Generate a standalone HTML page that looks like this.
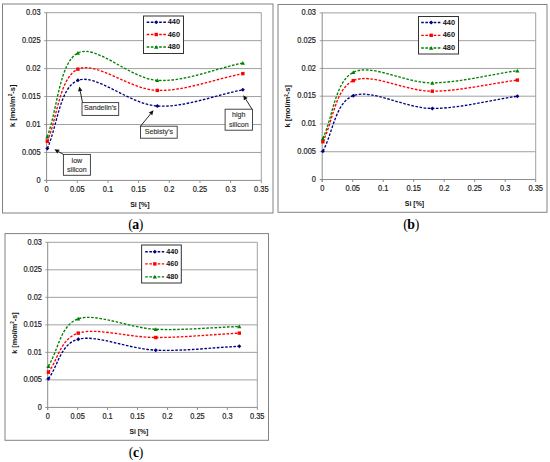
<!DOCTYPE html>
<html><head><meta charset="utf-8"><title>Chart</title>
<style>
html,body{margin:0;padding:0;background:#fff;}
body{width:550px;height:462px;overflow:hidden;}
svg{display:block;font-family:"Liberation Sans", sans-serif;}
</style></head><body>
<svg width="550" height="462" viewBox="0 0 550 462">
<rect width="550" height="462" fill="#fff"/>
<rect x="2.5" y="4" width="270.5" height="209" fill="none" stroke="#828282" stroke-width="1"/>
<line x1="44.1" y1="152.45" x2="261.3" y2="152.45" stroke="#a0a0a0" stroke-width="1"/>
<line x1="44.1" y1="124.5" x2="261.3" y2="124.5" stroke="#a0a0a0" stroke-width="1"/>
<line x1="44.1" y1="96.55" x2="261.3" y2="96.55" stroke="#a0a0a0" stroke-width="1"/>
<line x1="44.1" y1="68.6" x2="261.3" y2="68.6" stroke="#a0a0a0" stroke-width="1"/>
<line x1="44.1" y1="40.65" x2="261.3" y2="40.65" stroke="#a0a0a0" stroke-width="1"/>
<line x1="44.1" y1="12.7" x2="261.3" y2="12.7" stroke="#a0a0a0" stroke-width="1"/>
<line x1="261.3" y1="12.7" x2="261.3" y2="180.4" stroke="#a0a0a0" stroke-width="1"/>
<line x1="46.6" y1="12.7" x2="46.6" y2="182.9" stroke="#8c8c8c" stroke-width="1"/>
<line x1="44.1" y1="180.4" x2="261.3" y2="180.4" stroke="#8c8c8c" stroke-width="1"/>
<line x1="46.6" y1="180.4" x2="46.6" y2="182.9" stroke="#8c8c8c" stroke-width="1"/>
<line x1="77.27" y1="180.4" x2="77.27" y2="182.9" stroke="#8c8c8c" stroke-width="1"/>
<line x1="107.94" y1="180.4" x2="107.94" y2="182.9" stroke="#8c8c8c" stroke-width="1"/>
<line x1="138.61" y1="180.4" x2="138.61" y2="182.9" stroke="#8c8c8c" stroke-width="1"/>
<line x1="169.29" y1="180.4" x2="169.29" y2="182.9" stroke="#8c8c8c" stroke-width="1"/>
<line x1="199.96" y1="180.4" x2="199.96" y2="182.9" stroke="#8c8c8c" stroke-width="1"/>
<line x1="230.63" y1="180.4" x2="230.63" y2="182.9" stroke="#8c8c8c" stroke-width="1"/>
<line x1="261.3" y1="180.4" x2="261.3" y2="182.9" stroke="#8c8c8c" stroke-width="1"/>
<text transform="translate(40.6,182.6) scale(0.9,1)" text-anchor="end" font-size="8.3" fill="#222" stroke="#222" stroke-width="0.2">0</text>
<text transform="translate(40.6,154.65) scale(0.9,1)" text-anchor="end" font-size="8.3" fill="#222" stroke="#222" stroke-width="0.2">0.005</text>
<text transform="translate(40.6,126.7) scale(0.9,1)" text-anchor="end" font-size="8.3" fill="#222" stroke="#222" stroke-width="0.2">0.01</text>
<text transform="translate(40.6,98.75) scale(0.9,1)" text-anchor="end" font-size="8.3" fill="#222" stroke="#222" stroke-width="0.2">0.015</text>
<text transform="translate(40.6,70.8) scale(0.9,1)" text-anchor="end" font-size="8.3" fill="#222" stroke="#222" stroke-width="0.2">0.02</text>
<text transform="translate(40.6,42.85) scale(0.9,1)" text-anchor="end" font-size="8.3" fill="#222" stroke="#222" stroke-width="0.2">0.025</text>
<text transform="translate(40.6,14.9) scale(0.9,1)" text-anchor="end" font-size="8.3" fill="#222" stroke="#222" stroke-width="0.2">0.03</text>
<text transform="translate(46.6,191.6) scale(0.9,1)" text-anchor="middle" font-size="8.3" fill="#222" stroke="#222" stroke-width="0.2">0</text>
<text transform="translate(77.27,191.6) scale(0.9,1)" text-anchor="middle" font-size="8.3" fill="#222" stroke="#222" stroke-width="0.2">0.05</text>
<text transform="translate(107.94,191.6) scale(0.9,1)" text-anchor="middle" font-size="8.3" fill="#222" stroke="#222" stroke-width="0.2">0.1</text>
<text transform="translate(138.61,191.6) scale(0.9,1)" text-anchor="middle" font-size="8.3" fill="#222" stroke="#222" stroke-width="0.2">0.15</text>
<text transform="translate(169.29,191.6) scale(0.9,1)" text-anchor="middle" font-size="8.3" fill="#222" stroke="#222" stroke-width="0.2">0.2</text>
<text transform="translate(199.96,191.6) scale(0.9,1)" text-anchor="middle" font-size="8.3" fill="#222" stroke="#222" stroke-width="0.2">0.25</text>
<text transform="translate(230.63,191.6) scale(0.9,1)" text-anchor="middle" font-size="8.3" fill="#222" stroke="#222" stroke-width="0.2">0.3</text>
<text transform="translate(261.3,191.6) scale(0.9,1)" text-anchor="middle" font-size="8.3" fill="#222" stroke="#222" stroke-width="0.2">0.35</text>
<text transform="translate(14.5,105.8) rotate(-90)" text-anchor="middle" font-size="7.5" font-weight="bold" fill="#111">k [mol/m<tspan font-size="4.65" dy="-2.2">2</tspan><tspan dy="2.2">-s]</tspan></text>
<text transform="translate(139.9,206.6) scale(0.93,1)" text-anchor="middle" font-size="7.5" font-weight="bold" fill="#111">Si [%]</text>
<path d="M47.3,148.54 C57.49,125.8 59.52,87.42 77.86,80.34 C96.19,73.26 129.8,104.47 157.31,106.05 C184.81,107.64 214.35,95.25 242.87,89.84" fill="none" stroke="#000080" stroke-width="1.35" stroke-dasharray="2.6 1.55"/>
<path d="M47.3,146.54 L49.3,148.54 L47.3,150.54 L45.3,148.54 Z" fill="#000080"/>
<path d="M77.86,78.34 L79.86,80.34 L77.86,82.34 L75.86,80.34 Z" fill="#000080"/>
<path d="M157.31,104.05 L159.31,106.05 L157.31,108.05 L155.31,106.05 Z" fill="#000080"/>
<path d="M242.87,87.84 L244.87,89.84 L242.87,91.84 L240.87,89.84 Z" fill="#000080"/>
<path d="M47.3,141.27 C57.49,117.23 59.52,77.64 77.86,69.16 C96.19,60.68 129.8,89.66 157.31,90.4 C184.81,91.15 214.35,79.22 242.87,73.63" fill="none" stroke="#ff0000" stroke-width="1.35" stroke-dasharray="2.6 1.55"/>
<rect x="45.6" y="139.57" width="3.4" height="3.4" fill="#ff0000"/>
<rect x="76.16" y="67.46" width="3.4" height="3.4" fill="#ff0000"/>
<rect x="155.61" y="88.7" width="3.4" height="3.4" fill="#ff0000"/>
<rect x="241.17" y="71.93" width="3.4" height="3.4" fill="#ff0000"/>
<path d="M47.3,136.8 C57.49,108.85 59.52,62.36 77.86,52.95 C96.19,43.54 129.8,78.66 157.31,80.34 C184.81,82.02 214.35,68.79 242.87,63.01" fill="none" stroke="#008000" stroke-width="1.35" stroke-dasharray="2.6 1.55"/>
<path d="M47.3,134.8 L49.4,138.58 L45.2,138.58 Z" fill="#008000"/>
<path d="M77.86,50.95 L79.96,54.73 L75.76,54.73 Z" fill="#008000"/>
<path d="M157.31,78.34 L159.41,82.12 L155.21,82.12 Z" fill="#008000"/>
<path d="M242.87,61.01 L244.97,64.79 L240.77,64.79 Z" fill="#008000"/>
<rect x="143.5" y="16" width="40" height="37.5" fill="#fff" stroke="#333" stroke-width="1"/>
<line x1="146.7" y1="22.2" x2="166.2" y2="22.2" stroke="#000080" stroke-width="1.35" stroke-dasharray="2.6 1.55"/>
<path d="M156.2,20.2 L158.2,22.2 L156.2,24.2 L154.2,22.2 Z" fill="#000080"/>
<text x="167.7" y="24.3" font-size="7.4" font-weight="bold" fill="#111">440</text>
<line x1="146.7" y1="34.5" x2="166.2" y2="34.5" stroke="#ff0000" stroke-width="1.35" stroke-dasharray="2.6 1.55"/>
<rect x="154.5" y="32.8" width="3.4" height="3.4" fill="#ff0000"/>
<text x="167.7" y="36.6" font-size="7.4" font-weight="bold" fill="#111">460</text>
<line x1="146.7" y1="47" x2="166.2" y2="47" stroke="#008000" stroke-width="1.35" stroke-dasharray="2.6 1.55"/>
<path d="M156.2,45.01 L158.3,48.78 L154.1,48.78 Z" fill="#008000"/>
<text x="167.7" y="49.1" font-size="7.4" font-weight="bold" fill="#111">480</text>
<text x="135.6" y="229.2" text-anchor="middle" font-family='"Liberation Serif", serif' font-size="13.8" letter-spacing="-0.4" fill="#000">(<tspan font-weight="bold">a</tspan>)</text>
<rect x="278" y="4.5" width="269" height="207.8" fill="none" stroke="#828282" stroke-width="1"/>
<line x1="319.7" y1="151.73" x2="535.7" y2="151.73" stroke="#a0a0a0" stroke-width="1"/>
<line x1="319.7" y1="123.97" x2="535.7" y2="123.97" stroke="#a0a0a0" stroke-width="1"/>
<line x1="319.7" y1="96.2" x2="535.7" y2="96.2" stroke="#a0a0a0" stroke-width="1"/>
<line x1="319.7" y1="68.43" x2="535.7" y2="68.43" stroke="#a0a0a0" stroke-width="1"/>
<line x1="319.7" y1="40.67" x2="535.7" y2="40.67" stroke="#a0a0a0" stroke-width="1"/>
<line x1="319.7" y1="12.9" x2="535.7" y2="12.9" stroke="#a0a0a0" stroke-width="1"/>
<line x1="535.7" y1="12.9" x2="535.7" y2="179.5" stroke="#a0a0a0" stroke-width="1"/>
<line x1="322.2" y1="12.9" x2="322.2" y2="182" stroke="#8c8c8c" stroke-width="1"/>
<line x1="319.7" y1="179.5" x2="535.7" y2="179.5" stroke="#8c8c8c" stroke-width="1"/>
<line x1="322.2" y1="179.5" x2="322.2" y2="182" stroke="#8c8c8c" stroke-width="1"/>
<line x1="352.7" y1="179.5" x2="352.7" y2="182" stroke="#8c8c8c" stroke-width="1"/>
<line x1="383.2" y1="179.5" x2="383.2" y2="182" stroke="#8c8c8c" stroke-width="1"/>
<line x1="413.7" y1="179.5" x2="413.7" y2="182" stroke="#8c8c8c" stroke-width="1"/>
<line x1="444.2" y1="179.5" x2="444.2" y2="182" stroke="#8c8c8c" stroke-width="1"/>
<line x1="474.7" y1="179.5" x2="474.7" y2="182" stroke="#8c8c8c" stroke-width="1"/>
<line x1="505.2" y1="179.5" x2="505.2" y2="182" stroke="#8c8c8c" stroke-width="1"/>
<line x1="535.7" y1="179.5" x2="535.7" y2="182" stroke="#8c8c8c" stroke-width="1"/>
<text transform="translate(316,181.7) scale(0.9,1)" text-anchor="end" font-size="8.3" fill="#222" stroke="#222" stroke-width="0.2">0</text>
<text transform="translate(316,153.93) scale(0.9,1)" text-anchor="end" font-size="8.3" fill="#222" stroke="#222" stroke-width="0.2">0.005</text>
<text transform="translate(316,126.17) scale(0.9,1)" text-anchor="end" font-size="8.3" fill="#222" stroke="#222" stroke-width="0.2">0.01</text>
<text transform="translate(316,98.4) scale(0.9,1)" text-anchor="end" font-size="8.3" fill="#222" stroke="#222" stroke-width="0.2">0.015</text>
<text transform="translate(316,70.63) scale(0.9,1)" text-anchor="end" font-size="8.3" fill="#222" stroke="#222" stroke-width="0.2">0.02</text>
<text transform="translate(316,42.87) scale(0.9,1)" text-anchor="end" font-size="8.3" fill="#222" stroke="#222" stroke-width="0.2">0.025</text>
<text transform="translate(316,15.1) scale(0.9,1)" text-anchor="end" font-size="8.3" fill="#222" stroke="#222" stroke-width="0.2">0.03</text>
<text transform="translate(322.2,191) scale(0.9,1)" text-anchor="middle" font-size="8.3" fill="#222" stroke="#222" stroke-width="0.2">0</text>
<text transform="translate(352.7,191) scale(0.9,1)" text-anchor="middle" font-size="8.3" fill="#222" stroke="#222" stroke-width="0.2">0.05</text>
<text transform="translate(383.2,191) scale(0.9,1)" text-anchor="middle" font-size="8.3" fill="#222" stroke="#222" stroke-width="0.2">0.1</text>
<text transform="translate(413.7,191) scale(0.9,1)" text-anchor="middle" font-size="8.3" fill="#222" stroke="#222" stroke-width="0.2">0.15</text>
<text transform="translate(444.2,191) scale(0.9,1)" text-anchor="middle" font-size="8.3" fill="#222" stroke="#222" stroke-width="0.2">0.2</text>
<text transform="translate(474.7,191) scale(0.9,1)" text-anchor="middle" font-size="8.3" fill="#222" stroke="#222" stroke-width="0.2">0.25</text>
<text transform="translate(505.2,191) scale(0.9,1)" text-anchor="middle" font-size="8.3" fill="#222" stroke="#222" stroke-width="0.2">0.3</text>
<text transform="translate(535.7,191) scale(0.9,1)" text-anchor="middle" font-size="8.3" fill="#222" stroke="#222" stroke-width="0.2">0.35</text>
<text transform="translate(289.7,106.3) rotate(-90)" text-anchor="middle" font-size="7.5" font-weight="bold" fill="#111">k [mol/m<tspan font-size="4.65" dy="-2.2">2</tspan><tspan dy="2.2">-s]</tspan></text>
<text transform="translate(414.5,206.3) scale(0.93,1)" text-anchor="middle" font-size="7.5" font-weight="bold" fill="#111">Si [%]</text>
<path d="M322.9,151.18 C333.03,132.67 335.05,102.77 353.29,95.64 C371.52,88.52 404.94,108.32 432.29,108.42 C459.64,108.51 489.01,100.27 517.37,96.2" fill="none" stroke="#000080" stroke-width="1.35" stroke-dasharray="2.6 1.55"/>
<path d="M322.9,149.18 L324.9,151.18 L322.9,153.18 L320.9,151.18 Z" fill="#000080"/>
<path d="M353.29,93.64 L355.29,95.64 L353.29,97.64 L351.29,95.64 Z" fill="#000080"/>
<path d="M432.29,106.42 L434.29,108.42 L432.29,110.42 L430.29,108.42 Z" fill="#000080"/>
<path d="M517.37,94.2 L519.37,96.2 L517.37,98.2 L515.37,96.2 Z" fill="#000080"/>
<path d="M322.9,141.74 C333.03,121.38 335.05,89.07 353.29,80.65 C371.52,72.23 404.94,91.29 432.29,91.2 C459.64,91.11 489.01,83.8 517.37,80.1" fill="none" stroke="#ff0000" stroke-width="1.35" stroke-dasharray="2.6 1.55"/>
<rect x="321.2" y="140.04" width="3.4" height="3.4" fill="#ff0000"/>
<rect x="351.59" y="78.95" width="3.4" height="3.4" fill="#ff0000"/>
<rect x="430.59" y="89.5" width="3.4" height="3.4" fill="#ff0000"/>
<rect x="515.67" y="78.4" width="3.4" height="3.4" fill="#ff0000"/>
<path d="M322.9,138.41 C333.03,116.38 335.05,81.58 353.29,72.32 C371.52,63.07 404.94,83.15 432.29,82.87 C459.64,82.59 489.01,74.73 517.37,70.65" fill="none" stroke="#008000" stroke-width="1.35" stroke-dasharray="2.6 1.55"/>
<path d="M322.9,136.41 L325,140.19 L320.8,140.19 Z" fill="#008000"/>
<path d="M353.29,70.33 L355.39,74.11 L351.19,74.11 Z" fill="#008000"/>
<path d="M432.29,80.88 L434.39,84.66 L430.19,84.66 Z" fill="#008000"/>
<path d="M517.37,68.66 L519.47,72.44 L515.27,72.44 Z" fill="#008000"/>
<rect x="418.5" y="16.5" width="40" height="37.5" fill="#fff" stroke="#333" stroke-width="1"/>
<line x1="421.2" y1="22.5" x2="441.2" y2="22.5" stroke="#000080" stroke-width="1.35" stroke-dasharray="2.6 1.55"/>
<path d="M431.2,20.5 L433.2,22.5 L431.2,24.5 L429.2,22.5 Z" fill="#000080"/>
<text x="442.7" y="24.6" font-size="7.4" font-weight="bold" fill="#111">440</text>
<line x1="421.2" y1="35.3" x2="441.2" y2="35.3" stroke="#ff0000" stroke-width="1.35" stroke-dasharray="2.6 1.55"/>
<rect x="429.5" y="33.6" width="3.4" height="3.4" fill="#ff0000"/>
<text x="442.7" y="37.4" font-size="7.4" font-weight="bold" fill="#111">460</text>
<line x1="421.2" y1="48" x2="441.2" y2="48" stroke="#008000" stroke-width="1.35" stroke-dasharray="2.6 1.55"/>
<path d="M431.2,46.01 L433.3,49.78 L429.1,49.78 Z" fill="#008000"/>
<text x="442.7" y="50.1" font-size="7.4" font-weight="bold" fill="#111">480</text>
<text x="411" y="229.2" text-anchor="middle" font-family='"Liberation Serif", serif' font-size="13.8" letter-spacing="-0.4" fill="#000">(<tspan font-weight="bold">b</tspan>)</text>
<rect x="5" y="233.6" width="263.5" height="206.7" fill="none" stroke="#828282" stroke-width="1"/>
<line x1="45.2" y1="379.88" x2="257.3" y2="379.88" stroke="#a0a0a0" stroke-width="1"/>
<line x1="45.2" y1="352.37" x2="257.3" y2="352.37" stroke="#a0a0a0" stroke-width="1"/>
<line x1="45.2" y1="324.85" x2="257.3" y2="324.85" stroke="#a0a0a0" stroke-width="1"/>
<line x1="45.2" y1="297.33" x2="257.3" y2="297.33" stroke="#a0a0a0" stroke-width="1"/>
<line x1="45.2" y1="269.82" x2="257.3" y2="269.82" stroke="#a0a0a0" stroke-width="1"/>
<line x1="45.2" y1="242.3" x2="257.3" y2="242.3" stroke="#a0a0a0" stroke-width="1"/>
<line x1="257.3" y1="242.3" x2="257.3" y2="407.4" stroke="#a0a0a0" stroke-width="1"/>
<line x1="47.7" y1="242.3" x2="47.7" y2="409.9" stroke="#8c8c8c" stroke-width="1"/>
<line x1="45.2" y1="407.4" x2="257.3" y2="407.4" stroke="#8c8c8c" stroke-width="1"/>
<line x1="47.7" y1="407.4" x2="47.7" y2="409.9" stroke="#8c8c8c" stroke-width="1"/>
<line x1="77.64" y1="407.4" x2="77.64" y2="409.9" stroke="#8c8c8c" stroke-width="1"/>
<line x1="107.59" y1="407.4" x2="107.59" y2="409.9" stroke="#8c8c8c" stroke-width="1"/>
<line x1="137.53" y1="407.4" x2="137.53" y2="409.9" stroke="#8c8c8c" stroke-width="1"/>
<line x1="167.47" y1="407.4" x2="167.47" y2="409.9" stroke="#8c8c8c" stroke-width="1"/>
<line x1="197.41" y1="407.4" x2="197.41" y2="409.9" stroke="#8c8c8c" stroke-width="1"/>
<line x1="227.36" y1="407.4" x2="227.36" y2="409.9" stroke="#8c8c8c" stroke-width="1"/>
<line x1="257.3" y1="407.4" x2="257.3" y2="409.9" stroke="#8c8c8c" stroke-width="1"/>
<text transform="translate(41.9,409.6) scale(0.9,1)" text-anchor="end" font-size="8.2" fill="#222" stroke="#222" stroke-width="0.2">0</text>
<text transform="translate(41.9,382.08) scale(0.9,1)" text-anchor="end" font-size="8.2" fill="#222" stroke="#222" stroke-width="0.2">0.005</text>
<text transform="translate(41.9,354.57) scale(0.9,1)" text-anchor="end" font-size="8.2" fill="#222" stroke="#222" stroke-width="0.2">0.01</text>
<text transform="translate(41.9,327.05) scale(0.9,1)" text-anchor="end" font-size="8.2" fill="#222" stroke="#222" stroke-width="0.2">0.015</text>
<text transform="translate(41.9,299.53) scale(0.9,1)" text-anchor="end" font-size="8.2" fill="#222" stroke="#222" stroke-width="0.2">0.02</text>
<text transform="translate(41.9,272.02) scale(0.9,1)" text-anchor="end" font-size="8.2" fill="#222" stroke="#222" stroke-width="0.2">0.025</text>
<text transform="translate(41.9,244.5) scale(0.9,1)" text-anchor="end" font-size="8.2" fill="#222" stroke="#222" stroke-width="0.2">0.03</text>
<text transform="translate(47.7,418.9) scale(0.9,1)" text-anchor="middle" font-size="8.2" fill="#222" stroke="#222" stroke-width="0.2">0</text>
<text transform="translate(77.64,418.9) scale(0.9,1)" text-anchor="middle" font-size="8.2" fill="#222" stroke="#222" stroke-width="0.2">0.05</text>
<text transform="translate(107.59,418.9) scale(0.9,1)" text-anchor="middle" font-size="8.2" fill="#222" stroke="#222" stroke-width="0.2">0.1</text>
<text transform="translate(137.53,418.9) scale(0.9,1)" text-anchor="middle" font-size="8.2" fill="#222" stroke="#222" stroke-width="0.2">0.15</text>
<text transform="translate(167.47,418.9) scale(0.9,1)" text-anchor="middle" font-size="8.2" fill="#222" stroke="#222" stroke-width="0.2">0.2</text>
<text transform="translate(197.41,418.9) scale(0.9,1)" text-anchor="middle" font-size="8.2" fill="#222" stroke="#222" stroke-width="0.2">0.25</text>
<text transform="translate(227.36,418.9) scale(0.9,1)" text-anchor="middle" font-size="8.2" fill="#222" stroke="#222" stroke-width="0.2">0.3</text>
<text transform="translate(257.3,418.9) scale(0.9,1)" text-anchor="middle" font-size="8.2" fill="#222" stroke="#222" stroke-width="0.2">0.35</text>
<text transform="translate(16.6,333.1) rotate(-90)" text-anchor="middle" font-size="7.3" font-weight="bold" fill="#111">k [mol/m<tspan font-size="4.53" dy="-2.2">2</tspan><tspan dy="2.2">-s]</tspan></text>
<text transform="translate(138.8,433.7) scale(0.93,1)" text-anchor="middle" font-size="7.3" font-weight="bold" fill="#111">Si [%]</text>
<path d="M48.4,378.78 C58.34,365.57 60.33,343.93 78.23,339.16 C96.13,334.39 128.94,348.97 155.78,350.17 C182.63,351.36 211.46,347.6 239.3,346.31" fill="none" stroke="#000080" stroke-width="1.35" stroke-dasharray="2.6 1.55"/>
<path d="M48.4,376.78 L50.4,378.78 L48.4,380.78 L46.4,378.78 Z" fill="#000080"/>
<path d="M78.23,337.16 L80.23,339.16 L78.23,341.16 L76.23,339.16 Z" fill="#000080"/>
<path d="M155.78,348.17 L157.78,350.17 L155.78,352.17 L153.78,350.17 Z" fill="#000080"/>
<path d="M239.3,344.31 L241.3,346.31 L239.3,348.31 L237.3,346.31 Z" fill="#000080"/>
<path d="M48.4,372.18 C58.34,359.15 60.33,338.88 78.23,333.11 C96.13,327.33 128.94,337.51 155.78,337.51 C182.63,337.51 211.46,334.57 239.3,333.11" fill="none" stroke="#ff0000" stroke-width="1.35" stroke-dasharray="2.6 1.55"/>
<rect x="46.7" y="370.48" width="3.4" height="3.4" fill="#ff0000"/>
<rect x="76.53" y="331.41" width="3.4" height="3.4" fill="#ff0000"/>
<rect x="154.08" y="335.81" width="3.4" height="3.4" fill="#ff0000"/>
<rect x="237.6" y="331.41" width="3.4" height="3.4" fill="#ff0000"/>
<path d="M48.4,366.12 C58.34,350.35 60.33,324.94 78.23,318.8 C96.13,312.65 128.94,327.97 155.78,329.25 C182.63,330.54 211.46,327.42 239.3,326.5" fill="none" stroke="#008000" stroke-width="1.35" stroke-dasharray="2.6 1.55"/>
<path d="M48.4,364.13 L50.5,367.91 L46.3,367.91 Z" fill="#008000"/>
<path d="M78.23,316.8 L80.33,320.58 L76.13,320.58 Z" fill="#008000"/>
<path d="M155.78,327.26 L157.88,331.04 L153.68,331.04 Z" fill="#008000"/>
<path d="M239.3,324.51 L241.4,328.29 L237.2,328.29 Z" fill="#008000"/>
<rect x="141.6" y="245" width="39.7" height="38" fill="#fff" stroke="#333" stroke-width="1"/>
<line x1="145.2" y1="251.7" x2="164.2" y2="251.7" stroke="#000080" stroke-width="1.35" stroke-dasharray="2.6 1.55"/>
<path d="M154.8,249.7 L156.8,251.7 L154.8,253.7 L152.8,251.7 Z" fill="#000080"/>
<text x="166.2" y="253.8" font-size="7.2" font-weight="bold" fill="#111">440</text>
<line x1="145.2" y1="263.9" x2="164.2" y2="263.9" stroke="#ff0000" stroke-width="1.35" stroke-dasharray="2.6 1.55"/>
<rect x="153.1" y="262.2" width="3.4" height="3.4" fill="#ff0000"/>
<text x="166.2" y="266" font-size="7.2" font-weight="bold" fill="#111">460</text>
<line x1="145.2" y1="276.8" x2="164.2" y2="276.8" stroke="#008000" stroke-width="1.35" stroke-dasharray="2.6 1.55"/>
<path d="M154.8,274.81 L156.9,278.59 L152.7,278.59 Z" fill="#008000"/>
<text x="166.2" y="278.9" font-size="7.2" font-weight="bold" fill="#111">480</text>
<text x="135.8" y="457.4" text-anchor="middle" font-family='"Liberation Serif", serif' font-size="13.8" letter-spacing="-0.4" fill="#000">(<tspan font-weight="bold">c</tspan>)</text>
<line x1="63.4" y1="154.4" x2="58.49" y2="151.62" stroke="#111" stroke-width="0.9"/><path d="M54.4,149.3 L59.57,149.7 L57.4,153.53 Z" fill="#111"/>
<rect x="63.4" y="154.4" width="27" height="20.9" fill="#fff" stroke="#333" stroke-width="0.9"/><text transform="translate(76.9,162.5) scale(0.9,1)" text-anchor="middle" font-size="7.9" fill="#333" stroke="#333" stroke-width="0.15">low</text><text transform="translate(76.9,172.2) scale(0.9,1)" text-anchor="middle" font-size="7.9" fill="#333" stroke="#333" stroke-width="0.15">silicon</text>
<line x1="82.5" y1="102.6" x2="80.22" y2="91.11" stroke="#111" stroke-width="0.9"/><path d="M79.3,86.5 L82.37,90.68 L78.06,91.54 Z" fill="#111"/>
<rect x="82" y="102.6" width="36.7" height="12.8" fill="#fff" stroke="#333" stroke-width="0.9"/><text transform="translate(100.35,110.3) scale(0.9,1)" text-anchor="middle" font-size="7.9" fill="#333" stroke="#333" stroke-width="0.15">Sandelin’s</text>
<line x1="140.5" y1="126.2" x2="150.53" y2="113.94" stroke="#111" stroke-width="0.9"/><path d="M153.5,110.3 L152.23,115.33 L148.82,112.55 Z" fill="#111"/>
<rect x="140.5" y="126.2" width="36.7" height="12" fill="#fff" stroke="#333" stroke-width="0.9"/><text transform="translate(158.85,133.6) scale(0.9,1)" text-anchor="middle" font-size="7.9" fill="#333" stroke="#333" stroke-width="0.15">Sebisty’s</text>
<line x1="252" y1="109.2" x2="245.78" y2="99.19" stroke="#111" stroke-width="0.9"/><path d="M243.3,95.2 L247.65,98.03 L243.91,100.35 Z" fill="#111"/>
<rect x="225.1" y="109.2" width="27.4" height="21" fill="#fff" stroke="#333" stroke-width="0.9"/><text transform="translate(238.8,116.8) scale(0.9,1)" text-anchor="middle" font-size="7.9" fill="#333" stroke="#333" stroke-width="0.15">high</text><text transform="translate(238.8,126.9) scale(0.9,1)" text-anchor="middle" font-size="7.9" fill="#333" stroke="#333" stroke-width="0.15">silicon</text>
</svg>
</body></html>
